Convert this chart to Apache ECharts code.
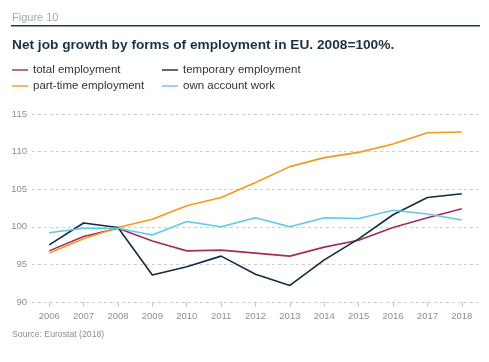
<!DOCTYPE html>
<html>
<head>
<meta charset="utf-8">
<script src="https://cdn.jsdelivr.net/npm/echarts@6/dist/echarts.min.js"></script>
<style>
html,body{margin:0;padding:0;background:#fff;}
#c{width:489px;height:362px;}
</style>
</head>
<body>
<div id="c"></div>
<script>
const years = ['2006','2007','2008','2009','2010','2011','2012','2013','2014','2015','2016','2017','2018'];
const totalEmployment = [96.8, 98.7, 99.8, 98.1, 96.8, 96.9, 96.5, 96.1, 97.3, 98.2, 99.9, 101.2, 102.4];
const temporaryEmployment = [97.6, 100.5, 99.9, 93.6, 94.7, 96.1, 93.7, 92.2, 95.6, 98.4, 101.6, 103.9, 104.4];
const partTimeEmployment = [96.5, 98.4, 99.9, 101.0, 102.8, 103.9, 105.9, 108.0, 109.2, 109.9, 111.0, 112.5, 112.6];
const ownAccountWork = [99.2, 99.8, 99.8, 98.9, 100.7, 100.0, 101.2, 100.0, 101.2, 101.1, 102.2, 101.7, 100.9];
const yTicks = [90, 95, 100, 105, 110, 115];

const FONT = '"Liberation Sans", "DejaVu Sans", sans-serif';
const chart = echarts.init(document.getElementById('c'), null, {renderer: 'canvas'});
function line(name, data, color) {
  return {name, type: 'line', data, symbol: 'none', smooth: false,
    lineStyle: {color, width: 1.6}, itemStyle: {color}};
}
const legendCommon = {
  orient: 'vertical', top: 59, itemWidth: 16, itemHeight: 10, itemGap: 4,
  icon: 'path://M0,4.3L16,4.3L16,5.7L0,5.7Z',
  textStyle: {fontSize: 11.5, color: '#333', fontFamily: FONT}
};
chart.setOption({
  animation: false,
  backgroundColor: '#fff',
  graphic: [
    {type: 'text', left: 12, top: 12, style: {text: 'Figure 10', fill: '#a3a9ad', font: '11px ' + FONT}},
    {type: 'rect', shape: {x: 11, y: 25, width: 469, height: 1.5}, style: {fill: '#1c3d4f'}},
    {type: 'text', left: 12, top: 38, style: {text: 'Net job growth by forms of employment in EU. 2008=100%.', fill: '#1b3244', font: 'bold 13.7px ' + FONT}},
    {type: 'text', left: 12, top: 330, style: {text: 'Source: Eurostat (2018)', fill: '#8a8f93', font: '8.7px ' + FONT}}
  ],
  legend: [
    Object.assign({data: ['total employment', 'part-time employment'], left: 7}, legendCommon),
    Object.assign({data: ['temporary employment', 'own account work'], left: 157}, legendCommon)
  ],
  grid: {left: 32, right: 10, top: 114, bottom: 60, containLabel: false},
  xAxis: {
    type: 'category', data: years, boundaryGap: true,
    axisLine: {show: false},
    axisTick: {show: true, alignWithLabel: true, length: 5, lineStyle: {color: '#c8c8c8'}},
    axisLabel: {color: '#8c9094', fontSize: 9.5, fontFamily: FONT, margin: 9}
  },
  yAxis: {
    type: 'value', min: 90, max: 115, interval: 5,
    axisLine: {show: false}, axisTick: {show: false},
    axisLabel: {color: '#8c9094', fontSize: 9.5, fontFamily: FONT, margin: 5,
      formatter: v => yTicks.includes(v) ? String(v) : ''},
    splitLine: {lineStyle: {color: '#cfcfcf', type: [3, 3], width: 1}}
  },
  series: [
    line('total employment', totalEmployment, '#a32d5b'),
    line('part-time employment', partTimeEmployment, '#f7981d'),
    line('temporary employment', temporaryEmployment, '#0f2c45'),
    line('own account work', ownAccountWork, '#5ccbe8')
  ]
});
</script>
</body>
</html>
